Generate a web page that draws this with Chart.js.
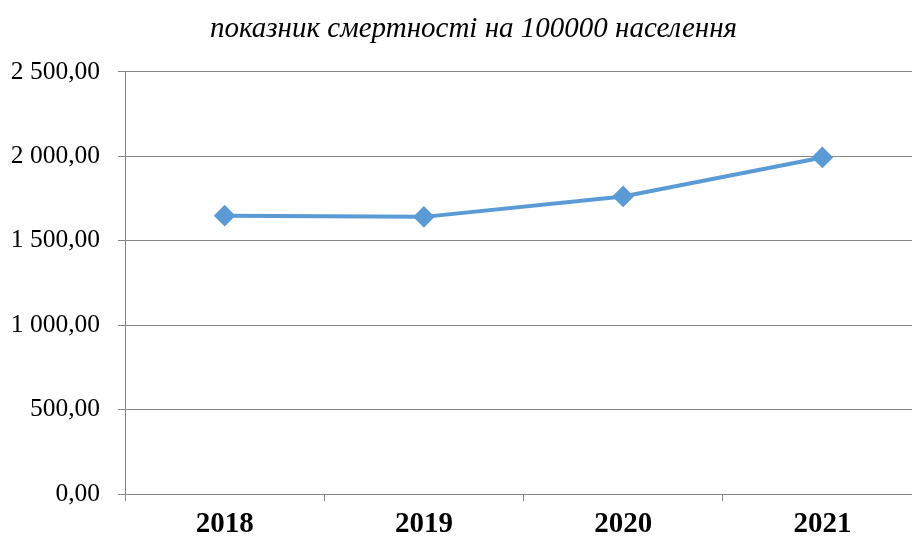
<!DOCTYPE html>
<html>
<head>
<meta charset="utf-8">
<script src="https://cdn.jsdelivr.net/npm/chart.js@4/dist/chart.umd.min.js"></script>
<style>
  html, body { margin: 0; padding: 0; background: #fff; overflow: hidden; }
  #wrap { width: 934px; height: 540px; }
</style>
</head>
<body>
<div id="wrap"><canvas id="chart"></canvas></div>
<script>
const years = ['2018', '2019', '2020', '2021'];
const mortality = [1648, 1641, 1762, 1993];
const yTicks = [0, 500, 1000, 1500, 2000, 2500];
const titleText = 'показник смертності на 100000 населення';

const gridGray = '#868686';
const lineBlue = '#5B9BD5';

function formatUa(v) {
  const parts = v.toFixed(2).split('.');
  const int = parts[0].replace(/\B(?=(\d{3})+(?!\d))/g, ' ');
  return int + ',' + parts[1];
}

// the left layout padding only shifts the title; let the y labels use it
const unclipY = {
  id: 'unclipY',
  beforeDraw(chart) { chart.scales.y.left = 0; }
};

new Chart(document.getElementById('chart'), {
  type: 'line',
  data: {
    labels: years,
    datasets: [{
      data: mortality,
      borderColor: lineBlue,
      backgroundColor: lineBlue,
      borderWidth: 4,
      pointStyle: 'rectRot',
      pointRadius: 8,
      pointBackgroundColor: lineBlue,
      pointBorderColor: lineBlue,
      tension: 0
    }]
  },
  plugins: [unclipY],
  options: {
    responsive: true,
    maintainAspectRatio: false,
    animation: false,
    layout: { padding: { left: 20, right: 7, bottom: 0 } },
    plugins: {
      legend: { display: false },
      tooltip: { enabled: false },
      title: {
        display: true,
        text: titleText,
        color: '#000',
        font: { family: 'Liberation Serif', size: 29, style: 'italic', weight: 'normal', lineHeight: 1.2 },
        padding: { top: 12, bottom: 25 }
      }
    },
    scales: {
      x: {
        offset: true,
        afterFit: (scale) => { scale.height = 46; },
        grid: { offset: true, drawOnChartArea: false, drawTicks: true, tickLength: 7, color: gridGray },
        border: { color: gridGray, width: 1 },
        ticks: {
          color: '#000',
          padding: 9,
          font: { family: 'Liberation Serif', size: 29, weight: 'bold', lineHeight: 1 }
        }
      },
      y: {
        min: 0,
        max: 2500,
        afterBuildTicks: (scale) => { scale.ticks = yTicks.map(v => ({ value: v })); },
        afterFit: (scale) => { scale.width = 105; },
        grid: { color: gridGray, tickLength: 7, drawTicks: true },
        border: { color: gridGray, width: 1 },
        ticks: {
          color: '#000',
          padding: 18,
          font: { family: 'Liberation Serif', size: 25.5 },
          callback: (v) => formatUa(v)
        }
      }
    }
  }
});
</script>
</body>
</html>
